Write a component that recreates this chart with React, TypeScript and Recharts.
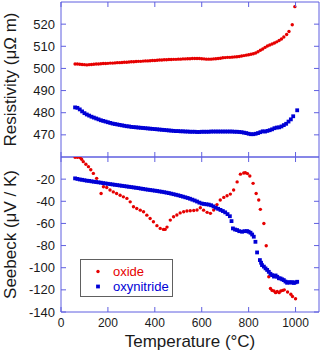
import React from 'react';
import { ScatterChart, Scatter, XAxis, YAxis, ReferenceLine, Legend } from 'recharts';

const FONT = '"Liberation Sans", Arial, Helvetica, sans-serif';
const FRAME = '#5f5fe0';
const RED = '#e60000';
const BLUE = '#0000d6';
const TEXT = '#1a1a1a';

const PLOT_W = 258;
const PLOT_H = 155;

const temperatureTicks = [0, 200, 400, 600, 800, 1000];
const resistivityTicks = [470, 480, 490, 500, 510, 520];
const seebeckTicks = [-140, -120, -100, -80, -60, -40, -20];

// Resistivity, oxide
const oxideResT = [60, 70, 80, 90, 100, 110, 120, 130, 140, 150, 160, 170, 180, 190, 200, 210, 220, 230, 240, 250, 260, 270, 280, 290, 300, 310, 320, 330, 340, 350, 360, 370, 380, 390, 400, 410, 420, 430, 440, 450, 460, 470, 480, 490, 500, 510, 520, 530, 540, 550, 560, 570, 580, 590, 600, 610, 620, 630, 640, 650, 660, 670, 680, 690, 700, 710, 720, 730, 740, 750, 760, 770, 780, 790, 800, 810, 820, 830, 840, 850, 860, 870, 880, 890, 900, 910, 920, 930, 940, 950, 962, 972, 986, 997];
const oxideRes = [502.0, 502.0, 501.9, 501.8, 501.7, 501.6, 501.7, 501.8, 501.9, 502.0, 502.0, 502.1, 502.2, 502.2, 502.3, 502.4, 502.4, 502.5, 502.6, 502.6, 502.7, 502.8, 502.8, 502.9, 503.0, 503.0, 503.1, 503.2, 503.2, 503.3, 503.4, 503.4, 503.5, 503.6, 503.6, 503.7, 503.8, 503.8, 503.9, 503.9, 504.0, 504.0, 504.1, 504.1, 504.2, 504.2, 504.3, 504.3, 504.4, 504.4, 504.5, 504.5, 504.5, 504.5, 504.4, 504.3, 504.2, 504.2, 504.2, 504.3, 504.4, 504.5, 504.6, 504.8, 504.9, 505.0, 505.0, 505.1, 505.2, 505.3, 505.4, 505.6, 505.8, 506.0, 506.2, 506.4, 506.6, 507.0, 507.5, 508.2, 508.8, 509.5, 510.1, 510.6, 511.0, 511.5, 512.0, 512.6, 513.3, 514.2, 515.3, 516.7, 519.7, 527.9];

// Resistivity, oxynitride
const oxyResT = [60, 70, 80, 90, 100, 110, 120, 130, 140, 150, 160, 170, 180, 190, 200, 210, 220, 230, 240, 250, 260, 270, 280, 290, 300, 310, 320, 330, 340, 350, 360, 370, 380, 390, 400, 410, 420, 430, 440, 450, 460, 470, 480, 490, 500, 510, 520, 530, 540, 550, 560, 570, 580, 590, 600, 610, 620, 630, 640, 650, 660, 670, 680, 690, 700, 710, 720, 730, 740, 750, 760, 770, 780, 790, 800, 810, 820, 830, 840, 850, 860, 870, 880, 890, 900, 910, 920, 930, 940, 950, 960, 970, 980, 990, 1007];
const oxyRes = [482.4, 482.2, 481.5, 480.6, 479.8, 479.2, 478.7, 478.2, 477.8, 477.4, 477.0, 476.6, 476.3, 476.0, 475.7, 475.4, 475.1, 474.9, 474.7, 474.5, 474.3, 474.1, 473.9, 473.8, 473.6, 473.5, 473.4, 473.3, 473.2, 473.1, 473.0, 472.9, 472.8, 472.7, 472.6, 472.5, 472.4, 472.3, 472.2, 472.1, 472.0, 471.9, 471.8, 471.7, 471.7, 471.6, 471.6, 471.5, 471.5, 471.4, 471.4, 471.4, 471.3, 471.3, 471.4, 471.4, 471.4, 471.4, 471.5, 471.5, 471.5, 471.5, 471.5, 471.5, 471.5, 471.5, 471.5, 471.5, 471.4, 471.4, 471.3, 471.2, 471.0, 470.8, 470.5, 470.3, 470.3, 470.5, 470.8, 471.2, 471.6, 471.5, 471.8, 472.1, 472.5, 473.0, 473.3, 473.4, 473.8, 474.4, 475.0, 476.0, 477.0, 478.4, 481.1];

// Seebeck, oxide
const oxideSeeT = [60, 70, 81, 88, 95, 106, 117, 127, 138, 152, 171, 181, 195, 209, 223, 237, 252, 266, 281, 295, 309, 323, 338, 352, 366, 380, 394, 409, 423, 437, 444, 452, 466, 480, 494, 508, 523, 537, 551, 566, 580, 594, 608, 623, 637, 651, 665, 679, 694, 708, 722, 736, 751, 765, 779, 786, 795, 805, 819, 832, 843, 850, 865, 875, 886, 893, 900, 908, 915, 922, 930, 937, 945, 952, 966, 980, 987, 1000];
const oxideSee = [-0.3, -0.3, -0.5, -2.0, -4.2, -6.5, -8.7, -11.5, -14.8, -19.3, -32.9, -26.9, -27.5, -29.8, -31.5, -33.0, -34.5, -36.0, -37.4, -40.5, -44.9, -46.5, -48.0, -49.4, -52.5, -55.5, -58.5, -62.0, -64.5, -65.4, -65.4, -63.3, -57.0, -54.0, -52.4, -50.5, -49.5, -48.8, -48.5, -48.3, -47.9, -45.8, -48.0, -50.0, -50.9, -47.9, -43.0, -38.9, -36.5, -35.0, -33.5, -29.8, -22.5, -15.5, -14.5, -14.2, -15.0, -17.2, -23.8, -32.9, -38.9, -47.3, -60.0, -80.2, -108.2, -118.8, -120.5, -121.0, -122.5, -121.5, -122.5, -121.0, -120.5, -120.0, -122.0, -124.0, -126.0, -128.0];

// Seebeck, oxynitride
const oxySeeT = [60, 70, 80, 90, 100, 110, 120, 130, 140, 150, 160, 170, 180, 190, 200, 210, 220, 230, 240, 250, 260, 270, 280, 290, 300, 310, 320, 330, 340, 350, 360, 370, 380, 390, 400, 410, 420, 430, 440, 450, 460, 470, 480, 490, 500, 510, 520, 530, 540, 550, 560, 570, 580, 590, 600, 610, 620, 630, 640, 650, 660, 670, 680, 690, 700, 710, 720, 727, 733, 742, 751, 760, 772, 782, 793, 800, 808, 815, 822, 829, 836, 848, 853, 857, 865, 872, 879, 886, 893, 900, 908, 915, 922, 929, 936, 943, 950, 957, 964, 971, 978, 985, 993, 1000, 1007];
const oxySee = [-19.3, -19.8, -20.3, -20.6, -21.0, -21.4, -21.6, -22.0, -22.3, -22.6, -22.9, -23.2, -23.6, -23.9, -24.2, -24.5, -24.8, -25.1, -25.4, -25.7, -26.0, -26.3, -26.6, -26.9, -27.2, -27.5, -27.8, -28.1, -28.5, -28.8, -29.2, -29.5, -29.8, -30.1, -30.4, -30.7, -31.1, -31.4, -31.8, -32.2, -32.6, -33.1, -33.6, -34.1, -34.6, -35.2, -35.8, -36.4, -37.0, -37.7, -38.5, -39.3, -40.2, -41.2, -42.0, -42.4, -42.7, -43.0, -43.6, -44.6, -45.8, -46.8, -47.8, -48.8, -50.0, -51.6, -53.5, -57.9, -64.5, -65.5, -66.0, -67.0, -67.5, -67.0, -66.9, -67.5, -68.4, -70.0, -72.0, -76.6, -86.2, -93.1, -95.5, -97.6, -99.0, -100.6, -102.0, -103.7, -105.5, -106.7, -108.0, -107.0, -108.2, -109.5, -109.7, -110.5, -111.2, -112.5, -113.6, -113.0, -113.5, -113.0, -113.8, -113.2, -112.7];

const toPoints = (ts: number[], vs: number[]) => ts.map((t, i) => ({ t, v: vs[i] }));

const oxideResData = toPoints(oxideResT, oxideRes);
const oxyResData = toPoints(oxyResT, oxyRes);
const oxideSeeData = toPoints(oxideSeeT, oxideSee);
const oxySeeData = toPoints(oxySeeT, oxySee);

const RedDot = (p: any) => <circle cx={p.cx} cy={p.cy} r={1.7} fill={RED} />;
const BlueSq = (p: any) => <rect x={p.cx - 1.9} y={p.cy - 1.9} width={3.8} height={3.8} fill={BLUE} />;

const makeXTick = (showLabel: boolean) => (props: any) => {
  const { x, y, payload } = props;
  return (
    <g>
      <line x1={x} y1={y} x2={x} y2={y - 5} stroke={FRAME} />
      <line x1={x} y1={y - PLOT_H} x2={x} y2={y - PLOT_H + 5} stroke={FRAME} />
      {showLabel && (
        <text x={x} y={y + 11} dy="0.35em" textAnchor="middle" fontSize={12} fill={TEXT} fontFamily={FONT}>
          {payload.value}
        </text>
      )}
    </g>
  );
};

const YTick = (props: any) => {
  const { x, y, payload } = props;
  return (
    <g>
      <line x1={x} y1={y} x2={x + 5} y2={y} stroke={FRAME} />
      <line x1={x + PLOT_W} y1={y} x2={x + PLOT_W - 5} y2={y} stroke={FRAME} />
      <text x={x - 6} y={y} dy="0.35em" textAnchor="end" fontSize={13} fill={TEXT} fontFamily={FONT}>
        {payload.value}
      </text>
    </g>
  );
};

const LegendBox = (props: any) => {
  const items = props.payload || [];
  return (
    <div style={{ width: 93, height: 38, boxSizing: 'border-box', border: '1px solid #606060', background: '#fff', position: 'relative', fontFamily: FONT, fontSize: 13 }}>
      {items.map((it: any, i: number) => (
        <div key={i} style={{ position: 'absolute', left: 0, top: 4 + i * 14.5, height: 15, width: 93, display: 'flex', alignItems: 'center' }}>
          <svg width={32} height={15} style={{ display: 'block' }}>
            {it.value === 'oxide' ? (
              <circle cx={17} cy={7.5} r={1.7} fill={RED} />
            ) : (
              <rect x={15.1} y={5.6} width={3.8} height={3.8} fill={BLUE} />
            )}
          </svg>
          <span style={{ color: it.value === 'oxide' ? RED : BLUE, lineHeight: '15px' }}>{it.value}</span>
        </div>
      ))}
    </div>
  );
};

export default function App() {
  return (
    <div style={{ position: 'absolute', left: 0, top: 0, width: 322, height: 355, background: '#fff', fontFamily: FONT }}>
      <div style={{ position: 'absolute', left: 0, top: 0 }}>
        <ScatterChart width={322} height={160} margin={{ top: 2, right: 3, bottom: 0, left: 0 }}>
          <XAxis dataKey="t" type="number" domain={[0, 1100]} ticks={temperatureTicks} allowDataOverflow height={3}
            tickSize={0} tickMargin={0} tickLine={false} axisLine={{ stroke: FRAME }} tick={makeXTick(false)} interval={0} />
          <YAxis dataKey="v" type="number" domain={[460, 530]} ticks={resistivityTicks} allowDataOverflow width={61}
            tickSize={0} tickMargin={0} tickLine={false} axisLine={{ stroke: FRAME }} tick={YTick} interval={0}
            label={{ value: 'Resistivity (μΩ m)', angle: -90, position: 'insideLeft', offset: 10, style: { textAnchor: 'middle', fontSize: 17, fill: TEXT, fontFamily: FONT } }} />
          <ReferenceLine x={1100} stroke={FRAME} />
          <ReferenceLine y={530} stroke={FRAME} />
          <Scatter name="oxide" data={oxideResData} fill={RED} shape={RedDot} isAnimationActive={false} />
          <Scatter name="oxynitride" data={oxyResData} fill={BLUE} shape={BlueSq} isAnimationActive={false} />
        </ScatterChart>
      </div>
      <div style={{ position: 'absolute', left: 0, top: 150 }}>
        <ScatterChart width={322} height={205} margin={{ top: 7, right: 3, bottom: 0, left: 0 }}>
          <XAxis dataKey="t" type="number" domain={[0, 1100]} ticks={temperatureTicks} allowDataOverflow height={43}
            tickSize={0} tickMargin={0} tickLine={false} axisLine={{ stroke: FRAME }} tick={makeXTick(true)} interval={0}
            label={{ value: 'Temperature (°C)', position: 'insideBottom', offset: 8, style: { textAnchor: 'middle', fontSize: 17, fill: TEXT, fontFamily: FONT } }} />
          <YAxis dataKey="v" type="number" domain={[-140, 0]} ticks={seebeckTicks} allowDataOverflow width={61}
            tickSize={0} tickMargin={0} tickLine={false} axisLine={{ stroke: FRAME }} tick={YTick} interval={0}
            label={{ value: 'Seebeck (μV / K)', angle: -90, position: 'insideLeft', offset: 10, style: { textAnchor: 'middle', fontSize: 17, fill: TEXT, fontFamily: FONT } }} />
          <ReferenceLine x={1100} stroke={FRAME} />
          <ReferenceLine y={0} stroke={FRAME} />
          <Scatter name="oxide" data={oxideSeeData} fill={RED} shape={RedDot} isAnimationActive={false} />
          <Scatter name="oxynitride" data={oxySeeData} fill={BLUE} shape={BlueSq} isAnimationActive={false} />
          <Legend layout="horizontal" verticalAlign="middle" align="center" content={LegendBox}
            wrapperStyle={{ position: 'absolute', left: 80, top: 109, width: 93, height: 38 }} />
        </ScatterChart>
      </div>
    </div>
  );
}
